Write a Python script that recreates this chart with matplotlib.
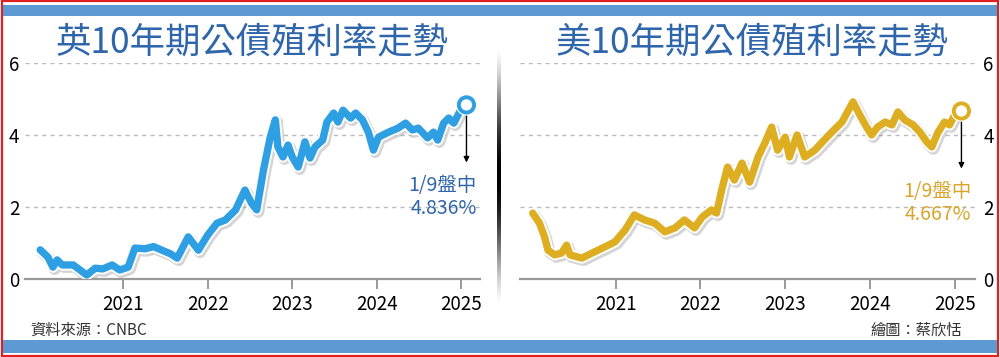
#UK / US 10-year bond yield trend

#importing the libraries
import numpy as np
import matplotlib
matplotlib.use('Agg')
import matplotlib.pyplot as plt
import matplotlib.patheffects as pe
from matplotlib.patches import Rectangle

plt.rcParams['font.family'] = ['Noto Sans CJK TC', 'DejaVu Sans']

#data (decimal years, yield %)
uk_years = [2020.02, 2020.11, 2020.17, 2020.22, 2020.28, 2020.41, 2020.49, 2020.57, 2020.67,
            2020.76, 2020.87, 2020.96, 2021.06, 2021.14, 2021.26, 2021.36, 2021.46, 2021.56,
            2021.64, 2021.77, 2021.89, 2022.00, 2022.11, 2022.21, 2022.33, 2022.44, 2022.52,
            2022.58, 2022.66, 2022.74, 2022.80, 2022.83, 2022.89, 2022.95, 2023.00, 2023.07,
            2023.15, 2023.21, 2023.27, 2023.36, 2023.41, 2023.49, 2023.54, 2023.60, 2023.69,
            2023.75, 2023.83, 2023.90, 2023.96, 2024.02, 2024.14, 2024.25, 2024.34, 2024.42,
            2024.49, 2024.60, 2024.67, 2024.72, 2024.79, 2024.85, 2024.91, 2024.99, 2025.06]
uk_yield = [0.81, 0.61, 0.33, 0.53, 0.39, 0.39, 0.25, 0.11, 0.30,
            0.28, 0.39, 0.25, 0.33, 0.86, 0.84, 0.90, 0.80, 0.70,
            0.58, 1.17, 0.80, 1.22, 1.55, 1.64, 1.92, 2.47, 2.10,
            1.92, 3.03, 3.94, 4.42, 3.67, 3.39, 3.72, 3.39, 3.11,
            3.81, 3.36, 3.67, 3.86, 4.36, 4.61, 4.36, 4.69, 4.47,
            4.61, 4.42, 4.08, 3.58, 3.94, 4.08, 4.19, 4.33, 4.14,
            4.19, 3.92, 4.08, 3.86, 4.33, 4.47, 4.33, 4.69, 4.836]

us_years = [2020.02, 2020.10, 2020.16, 2020.20, 2020.28, 2020.36, 2020.42, 2020.46, 2020.60,
            2020.72, 2020.87, 2020.99, 2021.11, 2021.22, 2021.34, 2021.46, 2021.58, 2021.70,
            2021.81, 2021.93, 2022.02, 2022.13, 2022.19, 2022.25, 2022.32, 2022.40, 2022.49,
            2022.58, 2022.68, 2022.76, 2022.84, 2022.91, 2023.00, 2023.05, 2023.14, 2023.23,
            2023.35, 2023.44, 2023.55, 2023.67, 2023.80, 2023.88, 2023.96, 2024.02, 2024.09,
            2024.18, 2024.26, 2024.33, 2024.41, 2024.51, 2024.59, 2024.67, 2024.73, 2024.80,
            2024.88, 2024.94, 2025.00, 2025.08]
us_yield = [1.83, 1.55, 1.17, 0.80, 0.67, 0.72, 0.94, 0.67, 0.58,
            0.72, 0.89, 1.03, 1.36, 1.78, 1.64, 1.55, 1.31, 1.42,
            1.64, 1.42, 1.72, 1.92, 1.83, 2.47, 3.11, 2.75, 3.22,
            2.69, 3.39, 3.78, 4.22, 3.58, 3.94, 3.39, 4.00, 3.39,
            3.58, 3.81, 4.08, 4.36, 4.92, 4.56, 4.22, 4.00, 4.22,
            4.36, 4.28, 4.64, 4.42, 4.28, 4.08, 3.81, 3.67, 4.06,
            4.36, 4.28, 4.56, 4.667]

year_ticks = [2021, 2022, 2023, 2024, 2025]
y_ticks = [0, 2, 4, 6]

titles = ['英10年期公債殖利率走勢', '美10年期公債殖利率走勢']
notes = ['1/9盤中\n4.836%', '1/9盤中\n4.667%']

uk_color = '#2e9fe2'
us_color = '#deae22'
title_color = '#2f65aa'
band_color = '#5d99d2'

fig = plt.figure(figsize=(10, 3.57), dpi=100)

#frame and blue bands
fig.patches.append(Rectangle((0.002, 0.003), 0.996, 0.993, transform=fig.transFigure,
                             fill=False, edgecolor='#e02020', linewidth=1.6))
fig.patches.append(Rectangle((0.003, 0.955), 0.994, 0.032, transform=fig.transFigure,
                             color=band_color, linewidth=0))
fig.patches.append(Rectangle((0.003, 0.012), 0.994, 0.036, transform=fig.transFigure,
                             color=band_color, linewidth=0))


def draw_panel(rect, xlim, years, values, color, note, side):
    ax = fig.add_axes(rect)
    ax.set_xlim(xlim)
    ax.set_ylim(0, 6)
    for s in ['top', 'left', 'right']:
        ax.spines[s].set_visible(False)
    ax.spines['bottom'].set_color('#999999')
    ax.spines['bottom'].set_linewidth(1.6)
    ax.set_xticks(year_ticks)
    ax.set_xticklabels([str(y) for y in year_ticks])
    ax.set_yticks(y_ticks)
    ax.tick_params(axis='x', length=7, width=1.4, color='#999999', labelsize=13.5, pad=4)
    ax.tick_params(axis='y', length=0, labelsize=13.5, pad=4)
    if side == 'right':
        ax.yaxis.tick_right()
        ax.tick_params(axis='y', labelleft=False, labelright=True, pad=6)
    for v in y_ticks[1:]:
        ax.axhline(v, color='#bbbbbb', linewidth=1, linestyle=(0, (3, 3)), zorder=1)
    ax.plot(years, values, color=color, linewidth=5.3, solid_capstyle='round',
            solid_joinstyle='round', zorder=3,
            path_effects=[pe.SimpleLineShadow(offset=(1.2, -1.5), shadow_color='#888888',
                                              alpha=0.35, linewidth=8.5),
                          pe.Stroke(linewidth=8, foreground='white'), pe.Normal()])
    ax.plot(years[-1], values[-1], marker='o', markersize=11, markerfacecolor='white',
            markeredgecolor=color, markeredgewidth=2.8, zorder=5,
            path_effects=[pe.Stroke(linewidth=4.5, foreground='white'), pe.Normal()])
    ax.annotate('', xy=(years[-1], values[-1] - 1.6), xytext=(years[-1], values[-1]),
                arrowprops=dict(arrowstyle='-|>', color='black', lw=1.0,
                                mutation_scale=8, shrinkA=0, shrinkB=0), zorder=4)
    txt_color = title_color if side == 'left' else '#d9a52c'
    ax.text(years[-1] + 0.12, values[-1] - 1.95, note, ha='right', va='top',
            fontsize=14, color=txt_color, linespacing=1.1, zorder=6)
    return ax


draw_panel([0.025, 0.2185, 0.455, 0.605], (2019.84, 2025.22), uk_years, uk_yield,
           uk_color, notes[0], 'left')
draw_panel([0.52, 0.2185, 0.455, 0.605], (2019.87, 2025.24), us_years, us_yield,
           us_color, notes[1], 'right')

fig.text(0.252, 0.882, titles[0], ha='center', va='center', fontsize=25.5, color=title_color)
fig.text(0.752, 0.882, titles[1], ha='center', va='center', fontsize=25.5, color=title_color)

fig.text(0.03, 0.075, '資料來源：CNBC', ha='left', va='center', fontsize=11, color='#333333')
fig.text(0.962, 0.075, '繪圖：蔡欣恬', ha='right', va='center', fontsize=11, color='#333333')

#gradient divider between the panels
div = fig.add_axes([0.4965, 0.14, 0.004, 0.73])
div.axis('off')
t = np.linspace(0, 1, 200)
grad = np.zeros((200, 1, 4))
grad[:, 0, 3] = np.sin(np.pi * t) ** 1.5
div.imshow(grad, aspect='auto', extent=(0, 1, 0, 1))

fig.savefig('out.png', dpi=100)
